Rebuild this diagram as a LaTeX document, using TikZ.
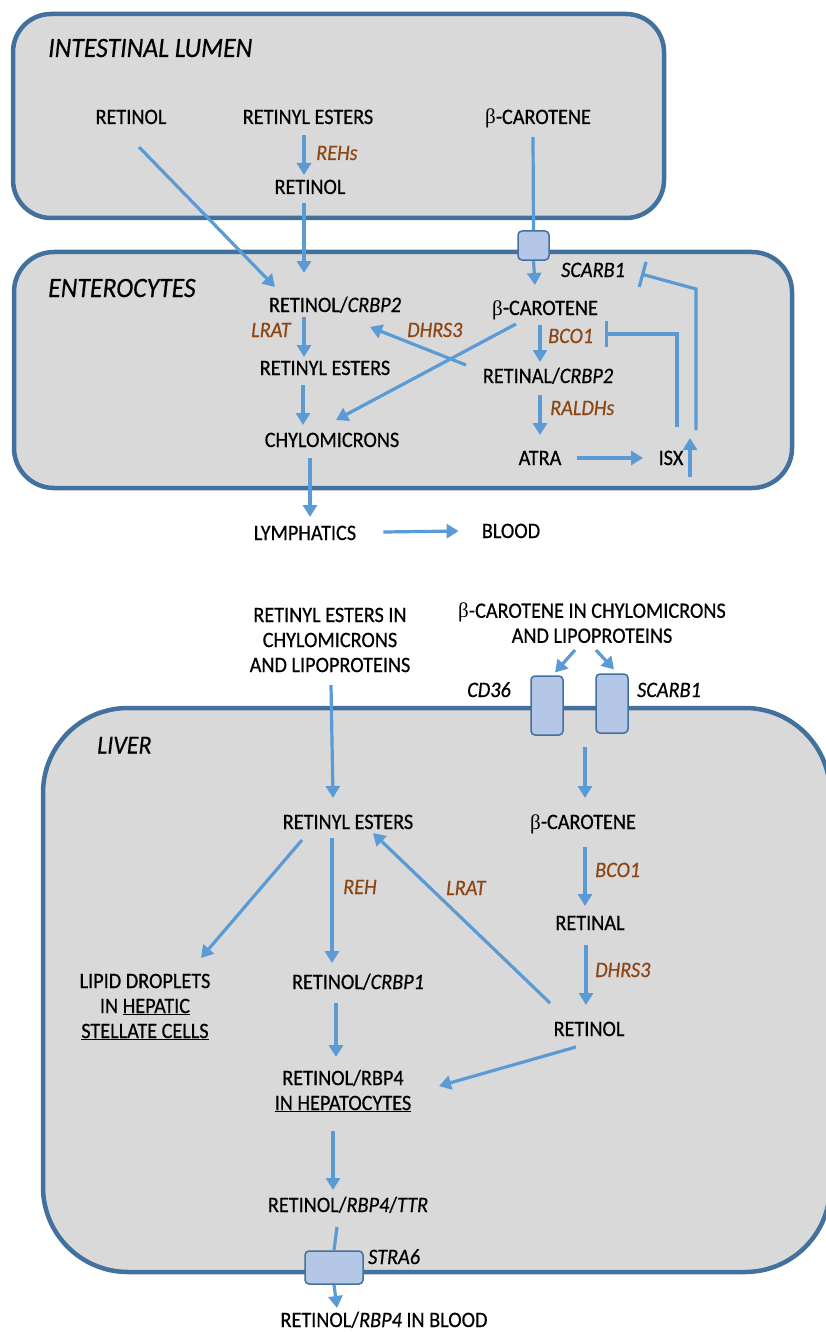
\documentclass[tikz,border=0pt]{standalone}
\usepackage{fontspec}
\setmainfont{Carlito}[FakeStretch=0.92,FakeBold=0.5]
\newfontfamily\grk{Liberation Serif}
\usetikzlibrary{arrows.meta,calc}
\definecolor{boxbd}{RGB}{65,113,156}
\definecolor{boxfill}{RGB}{217,217,217}
\definecolor{arrc}{RGB}{91,155,213}
\definecolor{enz}{RGB}{140,70,20}
\definecolor{tfill}{RGB}{180,199,231}
\newcommand{\fsz}{\fontsize{22}{25}\selectfont}
\newcommand{\bet}{{\grk\fontsize{21}{25}\selectfont β}}
\begin{document}
\begin{tikzpicture}[x=1pt,y=-1pt,
  txt/.style={inner sep=0pt,text height=14pt,text depth=0pt,font=\fsz},
  mtxt/.style={inner sep=0pt,align=center,font=\fsz},
  enzl/.style={txt,text=enz,font=\fsz\itshape},
  reg/.style={txt,font=\fsz\itshape},
  bigreg/.style={inner sep=0pt,text height=18pt,text depth=0pt,font=\fontsize{28}{30}\selectfont\itshape},
  arr/.style={draw=arrc,line width=3.2pt,-{Triangle[length=12pt,width=14pt]}},
  ln/.style={draw=arrc,line width=3.2pt},
  inh/.style={draw=arrc,line width=3.2pt,-{Bar[width=26pt]}},
  cell/.style={draw=boxbd,line width=4.5pt,fill=boxfill},
  trans/.style={draw=boxbd,line width=1.5pt,fill=tfill,rounded corners=4pt,inner sep=0pt}]
\useasboundingbox (0,0) rectangle (826,1332);
\fill[white] (0,0) rectangle (826,1332);

% cells
\draw[cell,rounded corners=38pt] (13,14) rectangle (664,218);
\draw[cell,rounded corners=40pt] (14,252) rectangle (792,488);
\draw[cell,rounded corners=85pt] (43,708) rectangle (830,1272);

% ---------- intestinal lumen ----------
\node[bigreg,anchor=west] (lumen) at (48,48) {INTESTINAL LUMEN};
\node[txt] (ret1) at (131,117) {RETINOL};
\node[txt] (re1) at (308,117) {RETINYL ESTERS};
\node[txt] (bc1) at (538,117) {\bet-CAROTENE};
\node[enzl,anchor=west] (rehs) at (316,153) {REHs};
\node[txt] (ret2) at (310,187) {RETINOL};

% ---------- enterocytes ----------
\node[trans,minimum width=31pt,minimum height=29pt] (t1) at (533.5,245.5) {};
\node[bigreg,anchor=west] (ent) at (48,288) {ENTEROCYTES};
\node[reg,anchor=west] (scarb1) at (561,270) {SCARB1};
\node[txt] (rc2) at (335,305) {RETINOL/\textit{CRBP2}};
\node[txt] (bc2) at (545,308) {\bet-CAROTENE};
\node[enzl,anchor=west] (lrat) at (251,330) {LRAT};
\node[enzl,anchor=west] (dhrs3) at (407,330) {DHRS3};
\node[enzl,anchor=west] (bco1) at (548,336) {BCO1};
\node[txt] (re2) at (325,368) {RETINYL ESTERS};
\node[txt] (ral) at (548,376) {RETINAL/\textit{CRBP2}};
\node[enzl,anchor=west] (raldh) at (550,408) {RALDHs};
\node[txt] (chylo) at (332,440) {CHYLOMICRONS};
\node[txt] (atra) at (540,458) {ATRA};
\node[txt] (isx) at (671,458) {ISX};
\node[txt] (lymph) at (305,533) {LYMPHATICS};
\node[txt] (blood) at (511,531) {BLOOD};

\draw[arr] ($(ret1)+(8,30)$) -- ($(rc2)+(-60,-18)$);
\draw[arr] ($(re1)+(-4,18)$) -- ($(ret2)+(-6,-12)$);
\draw[arr] ($(ret2)+(-6,16)$) -- ($(rc2)+(-31,-32)$);
\draw[ln] ($(bc1)+(-5,20)$) -- (t1.north);
\draw[arr] (t1.south) -- ($(bc2)+(-10,-23)$);
\draw[arr] ($(rc2)+(-31,12)$) -- ($(re2)+(-21,-11)$);
\draw[arr] ($(ral)+(-82,-11)$) -- ($(rc2)+(35,22)$);
\draw[arr] ($(bc2)+(-29,16)$) -- ($(chylo)+(4,-20)$);
\draw[arr] ($(bc2)+(-5,17)$) -- ($(ral)+(-8,-14)$);
\draw[arr] ($(re2)+(-22,17)$) -- ($(chylo)+(-29,-15)$);
\draw[arr] ($(ral)+(-8,19)$) -- ($(atra)+(0,-23)$);
\draw[arr] ($(atra)+(37,0)$) -- ($(isx)+(-28,0)$);
\draw[arr] ($(isx)+(19,19)$) -- ($(isx)+(19,-20)$);
\draw[inh] ($(isx)+(25,-28)$) -- ($(isx)+(25,-169)$) -- ($(scarb1.east)+(16,4)$);
\draw[inh] ($(isx)+(6,-31)$) |- ($(bco1.east)+(12,-2)$);
\draw[arr] ($(chylo)+(-22,18)$) -- ($(lymph)+(5,-16)$);
\draw[arr] ($(lymph.east)+(27,-1)$) -- ($(blood.west)+(-23,0)$);

% ---------- liver ----------
\node[mtxt] (reIn) at (330,640) {RETINYL ESTERS IN\\CHYLOMICRONS\\AND LIPOPROTEINS};
\node[mtxt] (bcIn) at (592,623) {\bet-CAROTENE IN CHYLOMICRONS\\AND LIPOPROTEINS};
\node[reg] (cd36l) at (489,690) {CD36};
\node[reg] (scarb1b) at (669,690) {SCARB1};
\node[trans,minimum width=32pt,minimum height=59pt] (cd36) at (547,705.5) {};
\node[trans,minimum width=32pt,minimum height=59pt] (sr) at (612,703.5) {};
\node[inner sep=0pt,text height=17pt,text depth=0pt,font=\fontsize{26}{28}\selectfont\itshape,anchor=west] (liver) at (97,745) {LIVER};
\node[txt] (re3) at (348,822) {RETINYL ESTERS};
\node[txt] (bc3) at (583,822) {\bet-CAROTENE};
\node[enzl,anchor=west] (reh) at (343,887) {REH};
\node[enzl,anchor=west] (lrat2) at (446,888) {LRAT};
\node[enzl,anchor=west] (bco1b) at (595,870) {BCO1};
\node[txt] (retinal) at (590,923) {RETINAL};
\node[enzl,anchor=west] (dhrs3b) at (595,970) {DHRS3};
\node[mtxt] (lipid) at (145,1007) {LIPID DROPLETS\\IN \underline{HEPATIC}\\\underline{STELLATE CELLS}};
\node[txt] (crbp1) at (358,982) {RETINOL/\textit{CRBP1}};
\node[txt] (retinol3) at (589,1029) {RETINOL};
\node[mtxt] (rbp4) at (343,1091) {RETINOL/RBP4\\\underline{IN HEPATOCYTES}};
\node[txt] (ttr) at (348,1205) {RETINOL/\textit{RBP4}/\textit{TTR}};
\node[trans,minimum width=58pt,minimum height=33pt] (stra6) at (334,1267.5) {};
\node[reg,anchor=west] (stra6l) at (368,1257) {STRA6};
\node[txt] (blood2) at (384,1320) {RETINOL/\textit{RBP4} IN BLOOD};

\draw[arr] ($(reIn)+(1,45)$) -- ($(re3)+(-15,-24)$);
\draw[arr] ($(bcIn)+(-17,27)$) -- ($(cd36)+(8,-33)$);
\draw[arr] ($(bcIn)+(4,27)$) -- ($(sr)+(2,-34)$);
\draw[arr] ($(bc3)+(2,-75)$) -- ($(bc3)+(2,-24)$);
\draw[arr] ($(re3)+(-46,18)$) -- ($(lipid)+(56,-49)$);
\draw[arr] ($(re3)+(-16,16)$) -- ($(crbp1)+(-26,-19)$);
\draw[arr] ($(retinol3)+(-39,-26)$) -- ($(re3)+(25,11)$);
\draw[arr] ($(bc3)+(2,25)$) -- ($(retinal)+(-5,-17)$);
\draw[arr] ($(retinal)+(-4,22)$) -- ($(retinol3)+(-3,-24)$);
\draw[arr] ($(crbp1)+(-22,21)$) -- ($(rbp4)+(-7,-34)$);
\draw[arr] ($(retinol3)+(-13,18)$) -- ($(rbp4)+(96,-5)$);
\draw[arr] ($(rbp4)+(-10,40)$) -- ($(ttr)+(-15,-15)$);
\draw[ln] ($(ttr)+(-11,22)$) -- (stra6.north);
\draw[arr] (stra6.south) -- ($(blood2)+(-47,-12)$);
\end{tikzpicture}
\end{document}
